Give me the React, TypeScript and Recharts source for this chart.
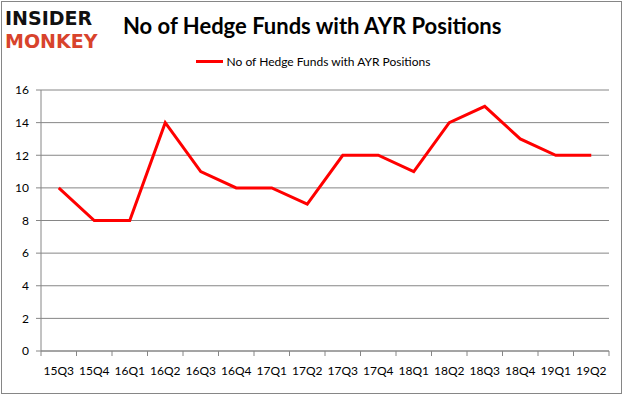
import React from 'react';
import { LineChart, Line, XAxis, YAxis, CartesianGrid } from 'recharts';

const quarters = ['15Q3', '15Q4', '16Q1', '16Q2', '16Q3', '16Q4', '17Q1', '17Q2', '17Q3', '17Q4', '18Q1', '18Q2', '18Q3', '18Q4', '19Q1', '19Q2'];
const hedgeFunds = [10, 8, 8, 14, 11, 10, 10, 9, 12, 12, 11, 14, 15, 13, 12, 12];
const yTicks = [0, 2, 4, 6, 8, 10, 12, 14, 16];
const seriesName = 'No of Hedge Funds with AYR Positions';

const chartData = quarters.map((q, i) => ({ quarter: q, funds: hedgeFunds[i] }));

const AXIS = '#868686';
const FONT = 'Lato, "Open Sans", sans-serif';
const HALF_BAND = 568 / quarters.length / 2;

// category labels centred, tick marks between categories like Excel
const QuarterTick = (props: any) => {
  const { x, y, payload, index } = props;
  const top = y - 8;
  return (
    <g>
      <line x1={x - HALF_BAND} x2={x - HALF_BAND} y1={top} y2={top + 5} stroke={AXIS} />
      {index === quarters.length - 1 && (
        <line x1={x + HALF_BAND} x2={x + HALF_BAND} y1={top} y2={top + 5} stroke={AXIS} />
      )}
      <text x={x} y={top + 24} textAnchor="middle" fill="#000" fontSize={12} fontFamily={FONT}>
        {payload.value}
      </text>
    </g>
  );
};

const logoStyle: React.CSSProperties = {
  position: 'absolute',
  left: 5,
  fontFamily: '"DejaVu Sans", sans-serif',
  fontWeight: 900,
  fontSize: 20,
  lineHeight: '20px',
  transform: 'scaleX(0.95)',
  transformOrigin: 'left',
  whiteSpace: 'nowrap',
};

export default function App() {
  return (
    <div style={{ position: 'fixed', left: 0, top: 0, width: 626, height: 397, background: '#fff' }}>
      <div style={{ position: 'absolute', left: 1, top: 1, width: 619, height: 391, border: '1px solid #868686' }} />

      {/* logo */}
      <div style={{ ...logoStyle, top: 8, color: '#111' }}>INSIDER</div>
      <div style={{ ...logoStyle, top: 31, color: '#d8432c' }}>MONKEY</div>

      <div style={{ position: 'absolute', left: 123, top: 12, fontFamily: FONT, fontWeight: 700, fontSize: 22, color: '#000', whiteSpace: 'nowrap' }}>
        {seriesName}
      </div>

      {/* legend */}
      <div style={{ position: 'absolute', left: 0, top: 54, width: 626, display: 'flex', alignItems: 'center', justifyContent: 'center', fontFamily: FONT, fontSize: 12, color: '#000' }}>
        <span style={{ display: 'inline-block', width: 27, height: 3, background: '#ff0000', marginRight: 4 }} />
        <span>{seriesName}</span>
      </div>

      <LineChart width={626} height={397} data={chartData} margin={{ top: 90, right: 17, bottom: 16, left: 0 }}>
        <CartesianGrid vertical={false} stroke={AXIS} strokeWidth={1} />
        <XAxis
          dataKey="quarter"
          stroke={AXIS}
          tickLine={false}
          tick={<QuarterTick />}
          interval={0}
          height={30}
          padding={{ left: HALF_BAND, right: HALF_BAND }}
        />
        <YAxis
          domain={[0, 16]}
          ticks={yTicks}
          width={41}
          stroke={AXIS}
          tickSize={5}
          tickMargin={7}
          tick={{ fill: '#000', fontSize: 12, fontFamily: FONT }}
          interval={0}
        />
        <Line
          type="linear"
          dataKey="funds"
          name={seriesName}
          stroke="#ff0000"
          strokeWidth={3}
          dot={false}
          isAnimationActive={false}
        />
      </LineChart>
    </div>
  );
}
